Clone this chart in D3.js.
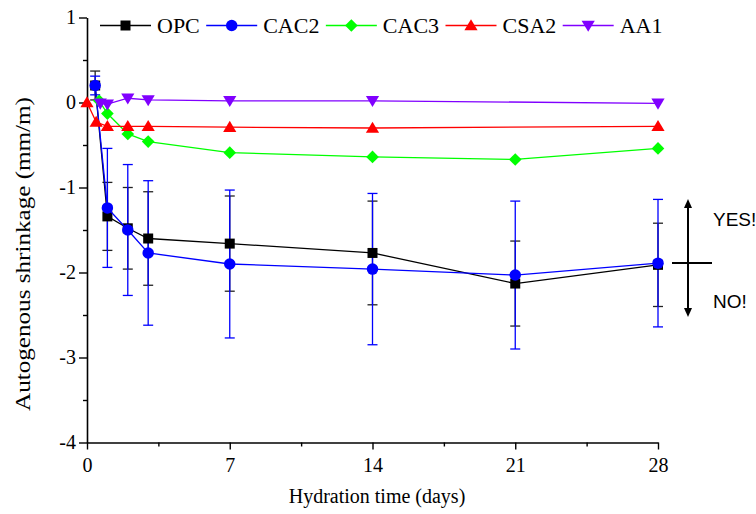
<!DOCTYPE html>
<html>
<head>
<meta charset="utf-8">
<script src="https://cdn.jsdelivr.net/npm/d3@7"></script>
<style>
  body { margin: 0; background: #fff; }
  svg { display: block; }
  .tick text { font-family: "Liberation Serif", "Times New Roman", serif; font-size: 20px; fill: #000; }
</style>
</head>
<body>
<div id="target"></div>
<script>
const width = 756;
const height = 514;

// values
const seriesNames = ['OPC', 'CAC2', 'CAC3', 'CSA2', 'AA1'];
const seriesColors = ['#000000', '#0000ff', '#00ff00', '#ff0000', '#8000ff'];
const seriesMarkers = ['square', 'circle', 'diamond', 'triangleUp', 'triangleDown'];

const opcDays = [0.4, 1, 2, 3, 7, 14, 21, 28];
const opcVals = [0.2, -1.34, -1.48, -1.6, -1.66, -1.77, -2.13, -1.91];
const opcErr = [0.17, 0.4, 0.48, 0.55, 0.56, 0.61, 0.5, 0.49];

const cac2Days = [0.4, 1, 2, 3, 7, 14, 21, 28];
const cac2Vals = [0.2, -1.24, -1.5, -1.77, -1.9, -1.96, -2.03, -1.89];
const cac2Err = [0.11, 0.7, 0.77, 0.85, 0.87, 0.89, 0.87, 0.75];

const cac3Days = [0.6, 1, 2, 3, 7, 14, 21, 28];
const cac3Vals = [0.02, -0.13, -0.37, -0.46, -0.59, -0.64, -0.67, -0.54];

const csa2Days = [0, 0.45, 1, 2, 3, 7, 14, 28];
const csa2Vals = [0, -0.23, -0.28, -0.28, -0.28, -0.29, -0.3, -0.28];

const aa1Days = [0.65, 1, 2, 3, 7, 14, 28];
const aa1Vals = [-0.01, -0.02, 0.05, 0.03, 0.02, 0.02, -0.01];

const xTicks = [0, 7, 14, 21, 28];
const xMinorTicks = [3.5, 10.5, 17.5, 24.5];
const yTicks = [-4, -3, -2, -1, 0, 1];
const yMinorTicks = [-3.5, -2.5, -1.5, -0.5, 0.5];

const series = [
  { days: opcDays, vals: opcVals, err: opcErr },
  { days: cac2Days, vals: cac2Vals, err: cac2Err },
  { days: cac3Days, vals: cac3Vals },
  { days: csa2Days, vals: csa2Vals },
  { days: aa1Days, vals: aa1Vals },
].map((s, i) => ({
  name: seriesNames[i],
  color: seriesColors[i],
  marker: seriesMarkers[i],
  points: s.days.map((d, j) => ({ x: d, y: s.vals[j], e: s.err ? s.err[j] : null })),
}));

const serif = '"Liberation Serif", "Times New Roman", serif';

const x = d3.scaleLinear().domain([0, 28]).range([87, 658]);
const y = d3.scaleLinear().domain([-4, 1]).range([442.5, 17.5]);

const svg = d3.select('#target').append('svg').attr('width', width).attr('height', height);

function markerPath(type, s) {
  const h = s / 2;
  switch (type) {
    case 'square':
      return `M${-h},${-h}H${h}V${h}H${-h}Z`;
    case 'circle':
      return `M${h},0A${h},${h} 0 1,1 ${-h},0A${h},${h} 0 1,1 ${h},0Z`;
    case 'diamond':
      return `M0,${-h * 1.15}L${h * 1.15},0L0,${h * 1.15}L${-h * 1.15},0Z`;
    case 'triangleUp':
      return `M0,${-h * 1.05}L${h * 1.1},${h * 0.8}L${-h * 1.1},${h * 0.8}Z`;
    case 'triangleDown':
      return `M0,${h * 1.05}L${h * 1.1},${-h * 0.8}L${-h * 1.1},${-h * 0.8}Z`;
  }
}
const markerSize = { square: 10, circle: 11.5, diamond: 11, triangleUp: 12, triangleDown: 12 };

// axes
svg.append('g').attr('transform', `translate(${x(0)},0)`)
  .call(d3.axisLeft(y).tickValues(yTicks).tickSize(8).tickSizeOuter(0).tickPadding(3).tickFormat((d) => String(d)));
svg.append('g').attr('transform', `translate(${x(0)},0)`)
  .call(d3.axisLeft(y).tickValues(yMinorTicks).tickSize(4).tickSizeOuter(0).tickFormat(''))
  .select('.domain').remove();

svg.append('g').attr('transform', `translate(0,${y(-4)})`)
  .call(d3.axisBottom(x).tickValues(xTicks).tickSize(7).tickSizeOuter(0).tickPadding(8).tickFormat((d) => String(d)));
svg.append('g').attr('transform', `translate(0,${y(-4)})`)
  .call(d3.axisBottom(x).tickValues(xMinorTicks).tickSize(4).tickSizeOuter(0).tickFormat(''))
  .select('.domain').remove();

svg.selectAll('.domain').attr('stroke', '#000').attr('stroke-width', 1.6);
svg.selectAll('.tick line').attr('stroke', '#000').attr('stroke-width', 1.4);

// axis titles
svg.append('text')
  .attr('x', 377)
  .attr('y', 503)
  .attr('text-anchor', 'middle')
  .style('font-family', serif)
  .style('font-size', '20px')
  .text('Hydration time (days)');

svg.append('text')
  .attr('transform', 'translate(30,254) rotate(-90)')
  .attr('text-anchor', 'middle')
  .attr('textLength', 314)
  .attr('lengthAdjust', 'spacingAndGlyphs')
  .style('font-family', serif)
  .style('font-size', '22px')
  .text('Autogenous shrinkage (mm/m)');

// error bars
const errG = svg.append('g');
series.filter((s) => s.points[0].e !== null).forEach((s) => {
  const g = errG.append('g').attr('stroke', s.name === 'OPC' ? '#222' : s.color).attr('stroke-width', 1.3);
  s.points.forEach((p) => {
    const cx = x(p.x);
    g.append('line').attr('x1', cx).attr('x2', cx).attr('y1', y(p.y + p.e)).attr('y2', y(p.y - p.e));
    g.append('line').attr('x1', cx - 5).attr('x2', cx + 5).attr('y1', y(p.y + p.e)).attr('y2', y(p.y + p.e));
    g.append('line').attr('x1', cx - 5).attr('x2', cx + 5).attr('y1', y(p.y - p.e)).attr('y2', y(p.y - p.e));
  });
});

// lines and markers
const line = d3.line().x((d) => x(d.x)).y((d) => y(d.y));
series.forEach((s) => {
  const g = svg.append('g');
  g.append('path')
    .datum(s.points)
    .attr('d', line)
    .attr('fill', 'none')
    .attr('stroke', s.color)
    .attr('stroke-width', 1.3);
  g.selectAll('path.mark')
    .data(s.points)
    .enter()
    .append('path')
    .attr('class', 'mark')
    .attr('transform', (d) => `translate(${x(d.x)},${y(d.y)})`)
    .attr('d', markerPath(s.marker, markerSize[s.marker]))
    .attr('fill', s.color);
});

// legend
const legend = svg.append('g').attr('transform', 'translate(100,25.5)');
let lx = 0;
series.forEach((s) => {
  const item = legend.append('g').attr('transform', `translate(${lx},0)`);
  item.append('line').attr('x1', 0).attr('x2', 51).attr('y1', 0).attr('y2', 0)
    .attr('stroke', s.color).attr('stroke-width', 1.3);
  item.append('path').attr('transform', 'translate(25.5,0)')
    .attr('d', markerPath(s.marker, markerSize[s.marker])).attr('fill', s.color);
  const t = item.append('text').attr('x', 57).attr('y', 7)
    .style('font-family', serif).style('font-size', '22px').text(s.name);
  lx += 57 + t.node().getComputedTextLength() + 6.4;
});

// YES / NO annotation
const ann = svg.append('g');
ann.append('line').attr('x1', 688).attr('x2', 688).attr('y1', 206).attr('y2', 310)
  .attr('stroke', '#000').attr('stroke-width', 2);
ann.append('path').attr('d', 'M688,199 L684,208 L692,208 Z').attr('fill', '#000');
ann.append('path').attr('d', 'M688,317 L684,308 L692,308 Z').attr('fill', '#000');
ann.append('line').attr('x1', 672).attr('x2', 712).attr('y1', 263).attr('y2', 263)
  .attr('stroke', '#000').attr('stroke-width', 2);
ann.append('text').attr('x', 713).attr('y', 226)
  .style('font-family', '"Liberation Sans", Arial, sans-serif').style('font-size', '19px').text('YES!');
ann.append('text').attr('x', 713).attr('y', 308)
  .style('font-family', '"Liberation Sans", Arial, sans-serif').style('font-size', '19px').text('NO!');
</script>
</body>
</html>
